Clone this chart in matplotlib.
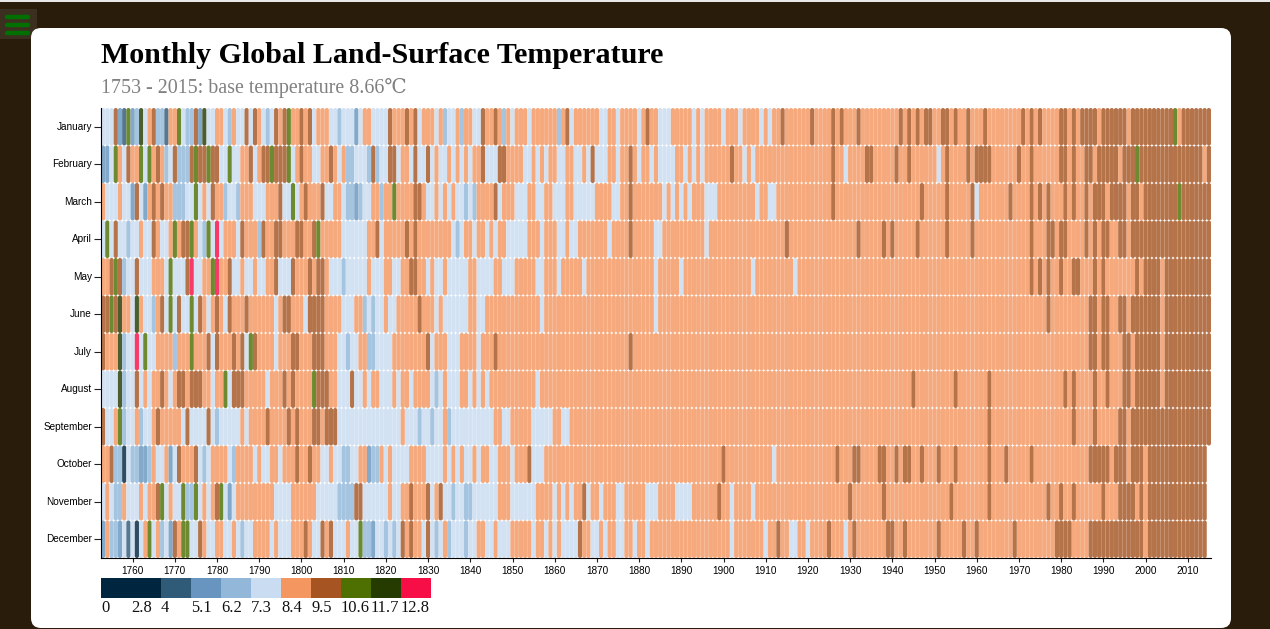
import matplotlib
matplotlib.use('Agg')
import matplotlib.pyplot as plt
from matplotlib.patches import FancyBboxPatch, Rectangle
from matplotlib.transforms import ScaledTranslation

title = 'Monthly Global Land-Surface Temperature'
subtitle = '1753 - 2015: base temperature 8.66\u2103'
months = ['January', 'February', 'March', 'April', 'May', 'June', 'July',
          'August', 'September', 'October', 'November', 'December']
firstYear = 1753
lastYears = [2015] * 9 + [2014] * 3
yearTicks = list(range(1760, 2011, 10))

# legend bins, one letter per bin in the runs below
binLetters = ['A', 'N', 'D', 'M', 'S', 'L', 'O', 'B', 'G', 'K', 'P']
binLabels = ['0', '2.8', '4', '5.1', '6.2', '7.3', '8.4', '9.5', '10.6', '11.7', '12.8']
binColors = ['#00263f', '#00263f', '#2f5a78', '#6795bf', '#92b7d9', '#c9dcf1',
             '#f39660', '#a55422', '#4e7002', '#263b00', '#f70e47']

# runs: "<years since 1753><bin>" starts a new run
january = """0L 3B 4M 5D 6G 7M 8S 9K 10L 11O 12B 13S 15D 16O 18G 19L 20S 22B 23M 24K 25L 27O 29L 30S 31O 32L
34B 35L 36B 37O 38L 39S 40L 41B 42O 43B 44G 45O 47B 48O 49B 50L 51O 54L 56S 57L 60M 61L 62O 64L 68B 69O 72B 73O
74B 75L 76O 79L 80O 81S 82L 84O 85S 86O 88L 90B 91O 93B 94O 95S 96O 97L 98O 101L 102O 108S 109O 110B 111L 112O
118L 120O 122L 123O 127L 128O 129B 130O 132L 135O 140L 141O 142L 143O 147L 148O 151L 152O 156L 157O 158L 159O
161B 162O 168B 169O 173B 174O 175B 176O 179B 180O 189B 190O 191B 192O 193B 194O 195B 197O 199B 201O 202B 203O
205B 206O 209B 210O 218B 219O 220B 221O 222B 223O 227B 229O 230B 231O 232B 236O 237B 243O 244B 254G 255O 256B"""
february = """0M 2L 3G 4O 5L 6B 7O 9G 10L 11G 12O 13B 14O 15S 16L 17B 18S 21B 22G 23B 25G 26B 28L 30G 31L 33O 35B
36L 37O 38B 40G 41B 44G 45L 46O 47B 48O 50L 52O 54B 55O 56L 57O 58S 60L 63S 64B 65S 66L 68B 70L 71O 73L 74B 75L
77B 78L 79O 80L 82O 83L 84O 85L 86O 87L 88O 90B 91L 94B 96O 100L 102O 103L 104O 105L 106O 108L 110O 112L 114O
115L 116B 117L 120O 122L 123O 125B 126O 127L 128O 130L 131O 132L 136O 138L 139O 140L 141O 142L 143O 149B 150O
152L 153O 154L 155O 173B 174O 176L 177O 181B 183O 188B 189O 191B 192O 198L 199O 200B 201O 205B 206O 207B 211O
217B 218O 220B 221O 227B 229O 230B 231O 233B 235O 236B 241O 242B 245G 246B 261O 262B"""
march = """0O 1L 4O 5L 7M 8B 9L 10M 11O 12B 13O 14B 15O 17S 20L 22G 23L 24O 25L 26B 27O 29S 30L 32S 33O 36L 39O
42B 43L 45G 46L 47O 48B 49O 52B 53L 55O 57L 58S 60M 61S 62L 64O 66S 67O 69G 70O 74B 76O 77L 79O 80L 81O 82L 83O
84L 86S 87L 88S 89O 93B 94L 95O 98L 101O 103L 105O 107L 110O 112L 117O 121L 123O 125B 126O 133L 134O 135L 136O
137L 138O 139L 140O 143L 146O 155L 156O 158L 160O 173B 174O 194B 195O 200B 201O 206B 207L 208O 215B 216O 220B
221O 222B 223O 224B 225O 228B 229O 230B 231O 233B 234O 235B 238O 239B 243O 244B 246O 247B 255G 256B"""
april = """0L 1G 2L 3B 4L 6S 7L 9O 10L 12B 13O 14L 16O 17G 18O 19B 21G 22O 23L 24S 25G 26L 27P 28L 29O 32L 33B
34O 37S 38B 39O 41B 43O 46B 48O 50B 51G 52O 57L 63O 65B 66L 67O 72B 73O 74B 75O 83L 84S 85L 86O 88L 89O 91L 92O
93L 94O 96L 101O 104L 105O 108L 110O 111L 113O 120L 121O 125B 126O 131L 133O 143L 144O 162B 163O 179B 180O 185B
186O 187B 188O 193B 194O 200B 201O 206B 207O 220B 221O 224B 226O 227B 229O 233B 234O 235B 236O 237B 239O 241B
243O 244B"""
may = """0O 2B 3G 4B 5S 6L 8B 9L 12O 15L 16G 17L 20B 21P 22L 24O 26G 27P 28O 30B 31L 33O 34L 36O 37L 39O 41B 42L
45B 46O 49B 50O 51B 53O 54L 57S 58L 63O 64L 67O 69L 71O 73B 75O 77L 78O 79L 81O 82L 87O 89L 93O 95L 98O 103L 105O
108L 109O 114L 115O 131L 132O 137L 138O 154L 155O 164L 165O 220B 221O 222B 223O 224B 225O 227B 228O 230B 232O
235B 236O 237B 238O 245B 246O 247B 251O 252B"""
june = """0B 2G 3B 4K 5O 7L 8K 9O 10L 12S 13O 14B 15L 16G 17L 18B 19L 21G 22L 23B 24O 25L 26O 27B 28O 29L 30B 31O
34B 35O 41L 42O 43B 45O 48L 49B 53O 57L 60O 62S 63L 64S 65L 67O 68L 70O 75B 76O 79L 80O 81L 87O 89L 91O 104L 105O
131L 132O 224B 225O 234B 236O 237B 239O 241B 243O 244B 251O 252B"""
july = """0B 1O 4K 5S 6L 8P 9L 10G 11L 13O 17S 18O 21G 22O 25B 26L 27B 28O 31B 32O 33B 34L 35G 36B 37O 41L 42O
45B 47O 50B 53O 56L 58S 59L 61O 63S 65L 69O 77B 78L 79O 82L 85O 89L 90O 93B 94O 125B 126O 234B 236O 237B 239O
242B 244O 245B 251O 252B"""
august = """0L 4K 5S 6L 8B 9L 10O 11L 12O 14B 15O 16L 17O 18B 20O 21B 24O 26L 27O 29G 30L 31B 34O 39L 40O 43B 44O
45B 46O 50G 51B 54O 56L 59B 60L 62O 63L 64O 66L 69O 70L 71O 73L 74O 78L 79S 80L 81O 82L 85O 87L 88O 89L 90O 91L
92O 103L 104O 192B 193O 202B 203O 210B 211O 228B 229O 230B 231O 235B 236O 238B 239O 242B 244O 245B 251O 252B"""
september = """0B 1L 3O 4G 5S 6L 8O 9S 10L 12O 13B 14O 19L 20B 21L 25B 26L 27S 28L 33O 34L 35O 39B 40O 44B 45O 46B
47O 50B 52O 53B 56L 71O 72L 75S 76L 78S 79L 81O 82S 83L 93O 95L 97O 102L 107O 109L 111O 210B 211O 230B 231O 235B
236O 241B 243O 244B"""
october = """0O 2B 3S 5N 6L 7S 9M 11S 12O 13L 15O 16M 17L 18B 19O 22B 23L 24S 25L 26O 30L 31S 32O 36L 37O 38L 40O
42L 43O 46B 47O 49B 50O 52L 54O 55L 57S 59L 61O 63M 64S 66O 67L 68O 69L 73O 77L 81O 82L 83O 84L 85O 86L 88O 89L
90O 92L 94O 97L 98O 101B 102L 105O 147B 148O 159L 160O 174B 175O 178B 180O 184B 186O 188B 189O 190B 192O 194B
195O 198B 199O 202B 203O 210B 211O 214B 215O 220B 221O 234B 239O 240B 243O 244B 247O 248B"""
november = """0L 1O 2L 3S 5O 6L 9O 10L 11O 13B 14G 15L 16O 17L 19G 20S 22G 23L 24O 25L 26O 27B 28G 29L 30M 31L 32O
41L 45O 51L 56S 60B 62L 68O 69L 71O 73B 74O 77B 78L 79O 80B 81L 83S 84L 86S 88L 94O 97L 103O 107L 108O 109L 110O
111L 112O 114B 115L 116O 118L 119O 122L 124O 129L 132O 136L 140O 146B 147O 149L 150O 154L 155O 177B 178O 185B
186O 201B 202O 210B 211O 224B 225O 227B 228O 230B 231O 237B 238O 241B 245O 246B 247O 248B"""
december = """0M 1O 2S 4M 5L 6D 7L 8N 9L 10O 11G 12L 13O 14S 15L 16M 17B 18O 19G 21L 23B 24O 25L 27O 29L 31O 32L 33S
34L 36O 40L 41O 42L 45O 48B 49O 50L 52B 53O 54B 55L 58O 59L 61G 62S 64M 65L 67S 68L 69S 70L 71B 72O 73B 74O 76L
77B 78L 79S 80L 81O 82S 83L 86S 87L 89O 91L 93O 94L 97O 102L 103O 105L 106O 107L 108O 109L 113B 114O 116L 118O
119L 120O 122L 124O 126L 127O 129L 130O 149L 150O 157L 158O 160B 161O 163L 165O 167L 168O 172B 173O 176L 177O
178B 179O 186B 188O 190B 191O 198B 199O 204B 205O 207B 208O 216B 217O 226B 230O 234B 247O 248B"""
monthRuns = [january, february, march, april, may, june, july, august,
             september, october, november, december]


def expandRuns(runs, lastYear):
    # turns the run text into (year, bin letter) for every year of the row
    tokens = runs.split()
    starts = [firstYear + int(t[:-1]) for t in tokens]
    letters = [t[-1] for t in tokens]
    cells = []
    for i, start in enumerate(starts):
        end = starts[i + 1] if i + 1 < len(starts) else lastYear + 1
        for year in range(start, end):
            cells.append((year, letters[i]))
    return cells


plt.rcParams['font.family'] = ['Liberation Sans', 'DejaVu Sans']
serif = ['Liberation Serif', 'DejaVu Serif']
W, H = 1270, 629
fig = plt.figure(figsize=(W / 100, H / 100), dpi=100, facecolor='#291c0a')

# page furniture, in pixels
page = fig.add_axes([0, 0, 1, 1])
page.set_xlim(0, W)
page.set_ylim(H, 0)
page.axis('off')
page.add_patch(Rectangle((0, 0), W, 1.5, color='#e8e8e8', lw=0))
page.add_patch(Rectangle((0, 9), 37, 30, color='#3b3020', lw=0))
page.add_patch(FancyBboxPatch((31, 28), 1200, 600, boxstyle='round,pad=0,rounding_size=10',
                              fc='white', ec='none', zorder=2))
for y in [17, 25, 33]:
    page.plot([7, 28], [y, y], color='#007000', lw=3.2, solid_capstyle='round', zorder=3)
page.text(101, 63, title, family=serif, fontsize=21.6, fontweight='bold', color='black', zorder=3)
page.text(101, 93, subtitle, family=serif, fontsize=14.4, color='#808080', zorder=3)

# heatmap
ax = fig.add_axes([101 / W, 1 - 558 / H, 1110 / W, 450 / H])
ax.set_xlim(firstYear - 0.5, 2015.5)
ax.set_ylim(12, 0)
ax.patch.set_alpha(0)
rowAspect = (1110 / 263) / (450 / 12)
colors = dict(zip(binLetters, binColors))
for row, runs in enumerate(monthRuns):
    for year, letter in expandRuns(runs, lastYears[row]):
        ax.add_patch(FancyBboxPatch((year - 0.495, row), 0.99, 1,
                                    boxstyle='round,pad=0,rounding_size=0.49',
                                    mutation_aspect=rowAspect,
                                    fc=colors[letter], ec='none', alpha=0.82))
ax.set_yticks([i + 0.5 for i in range(12)])
ax.set_yticklabels(months)
ax.set_xticks(yearTicks)
ax.tick_params(axis='both', labelsize=7.2, length=5, width=0.8, pad=1.5, color='#222222')
ax.tick_params(axis='x', length=3, pad=2.5)
ax.spines['top'].set_visible(False)
ax.spines['right'].set_visible(False)
ax.spines['left'].set_linewidth(0.8)
ax.spines['bottom'].set_linewidth(0.8)
for lab in ax.get_yticklabels():
    lab.set_transform(lab.get_transform() + ScaledTranslation(0, 0.01, fig.dpi_scale_trans))

# legend
leg = fig.add_axes([101 / W, 1 - 618 / H, 360 / W, 40 / H])
leg.set_xlim(0, 12)
leg.set_ylim(40, 0)
leg.axis('off')
leg.bar(range(len(binColors)), [20] * len(binColors), width=1.0, align='edge', color=binColors)
for i, label in enumerate(binLabels):
    leg.text(i, 34, label, family=serif, fontsize=11.9, color='#111111')

fig.savefig('out.png', dpi=100, facecolor=fig.get_facecolor())
